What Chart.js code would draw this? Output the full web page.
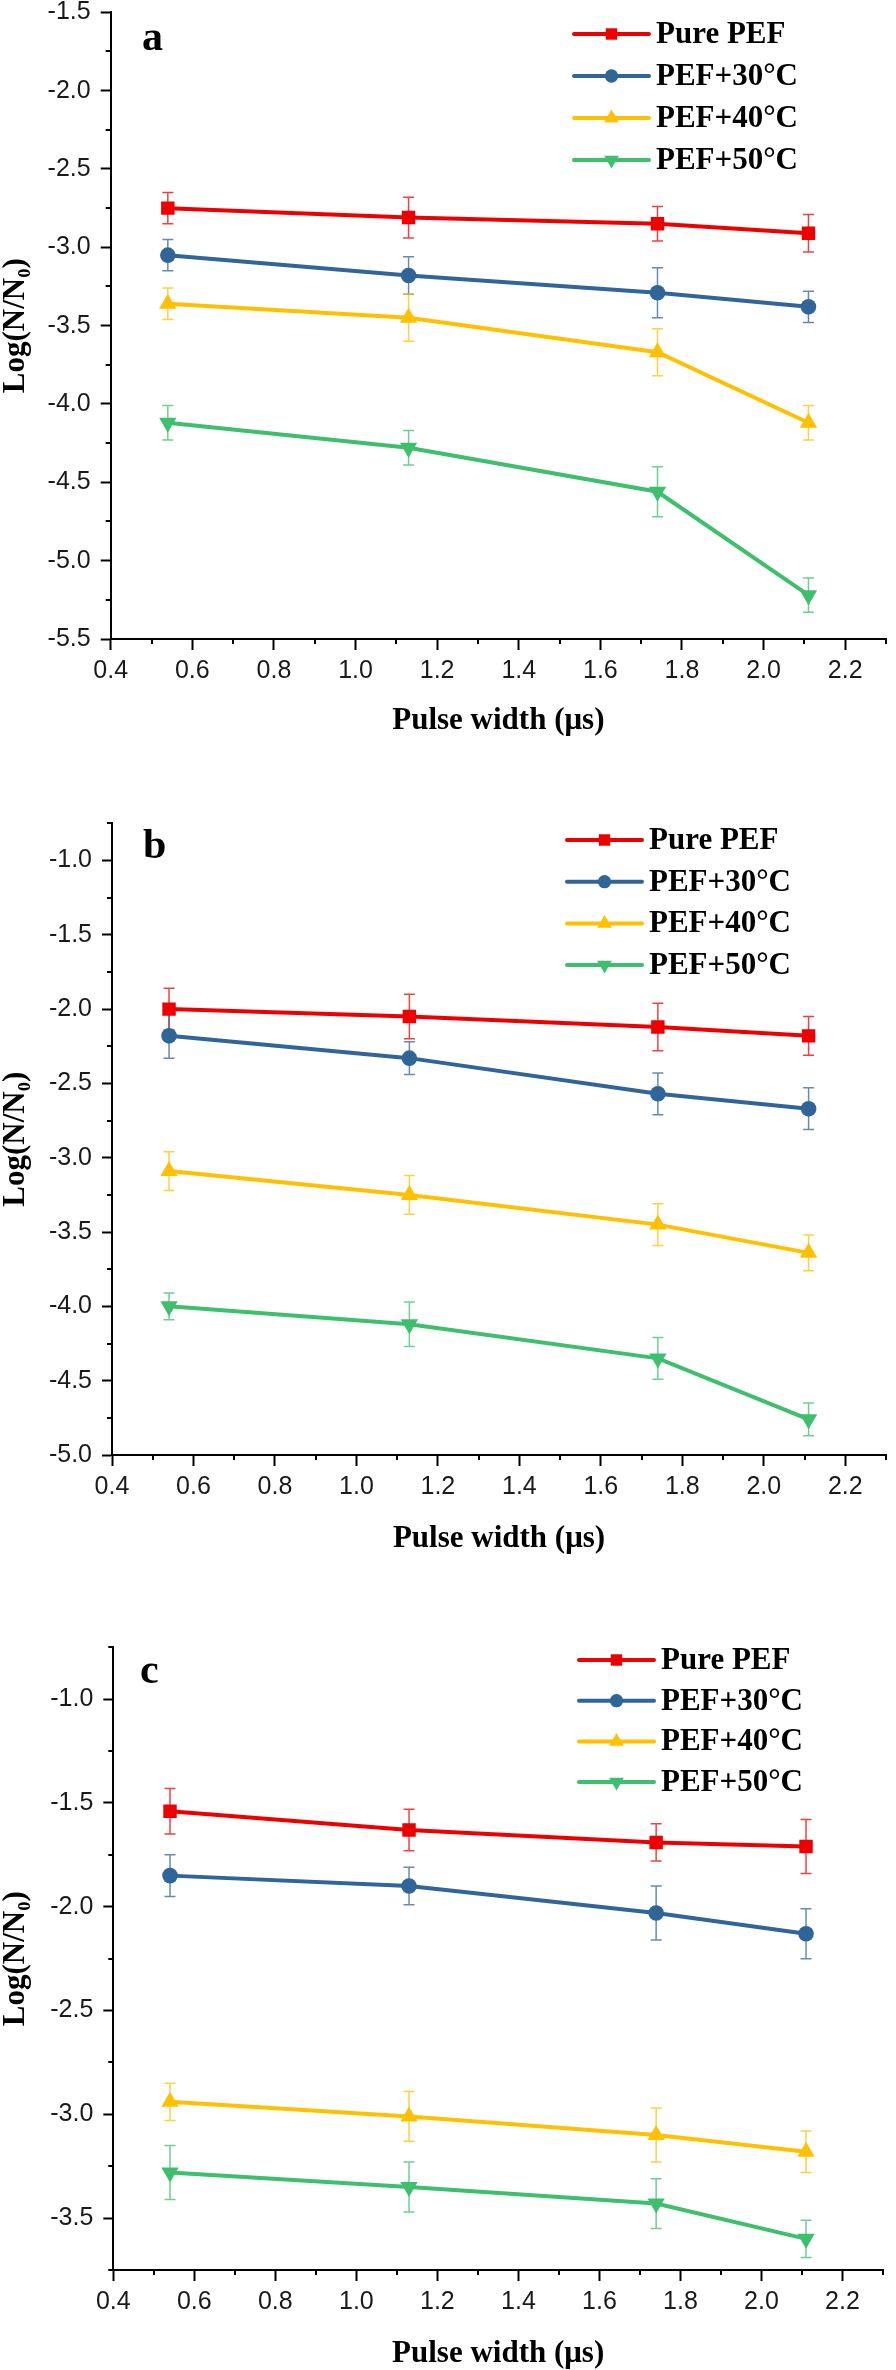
<!DOCTYPE html>
<html>
<head>
<meta charset="utf-8">
<script src="https://cdn.jsdelivr.net/npm/chart.js@4.4.1/dist/chart.umd.min.js"></script>
<style>
  html, body { margin: 0; padding: 0; background: #fff; }
  body { width: 896px; height: 2370px; position: relative; overflow: hidden; }
  canvas { position: absolute; left: 0; }
</style>
</head>
<body>
<canvas id="chartA"></canvas>
<canvas id="chartB"></canvas>
<canvas id="chartC"></canvas>
<script>
// pulse widths (µs) shared by all three panels
const pulseWidths = [0.54, 1.13, 1.74, 2.11];
const seriesNames = ['Pure PEF', 'PEF+30°C', 'PEF+40°C', 'PEF+50°C'];

const xTickValues = [0.4, 0.6, 0.8, 1.0, 1.2, 1.4, 1.6, 1.8, 2.0, 2.2];
const yTicksA = [-5.5, -5.0, -4.5, -4.0, -3.5, -3.0, -2.5, -2.0, -1.5];
const yTicksB = [-5.0, -4.5, -4.0, -3.5, -3.0, -2.5, -2.0, -1.5, -1.0];
const yTicksC = [-3.5, -3.0, -2.5, -2.0, -1.5, -1.0];

// panel a
const pureA = [-2.75, -2.81, -2.85, -2.91];
const t30A  = [-3.05, -3.18, -3.29, -3.38];
const t40A  = [-3.36, -3.45, -3.67, -4.12];
const t50A  = [-4.12, -4.28, -4.56, -5.22];
const pureErrA = [0.10, 0.13, 0.11, 0.12];
const t30ErrA  = [0.10, 0.12, 0.16, 0.10];
const t40ErrA  = [0.10, 0.15, 0.15, 0.11];
const t50ErrA  = [0.11, 0.11, 0.16, 0.11];

// panel b
const pureB = [-2.00, -2.05, -2.12, -2.18];
const t30B  = [-2.18, -2.33, -2.57, -2.67];
const t40B  = [-3.09, -3.25, -3.45, -3.64];
const t50B  = [-4.00, -4.12, -4.35, -4.76];
const pureErrB = [0.14, 0.15, 0.16, 0.13];
const t30ErrB  = [0.15, 0.11, 0.14, 0.14];
const t40ErrB  = [0.13, 0.13, 0.14, 0.12];
const t50ErrB  = [0.09, 0.15, 0.14, 0.11];

// panel c
const pureC = [-1.54, -1.63, -1.69, -1.71];
const t30C  = [-1.85, -1.90, -2.03, -2.13];
const t40C  = [-2.94, -3.01, -3.10, -3.18];
const t50C  = [-3.28, -3.35, -3.43, -3.60];
const pureErrC = [0.11, 0.10, 0.09, 0.13];
const t30ErrC  = [0.10, 0.09, 0.13, 0.12];
const t40ErrC  = [0.09, 0.12, 0.13, 0.10];
const t50ErrC  = [0.13, 0.12, 0.12, 0.09];

const seriesColors = ['#ee0000', '#30659a', '#ffc000', '#3dbf6e'];
const markerStyles = ['rect', 'circle', 'triangle', 'triangle'];
const markerRotations = [0, 0, 0, 180];
const markerRadii = [9.5, 7.8, 10, 10];

const SERIF = '"Liberation Serif", "Times New Roman", "DejaVu Serif", serif';
const SANS = '"Liberation Sans", Arial, sans-serif';

const panels = [
  { canvasId: 'chartA', top: 0, height: 736,
    area: { left: 110.7, top: 12.3, right: 887, bottom: 639 },
    yMin: -5.5, yMax: -1.5, yTicks: yTicksA,
    values: [pureA, t30A, t40A, t50A], errors: [pureErrA, t30ErrA, t40ErrA, t50ErrA],
    letter: 'a', letterX: 142, letterY: 50, legendX: 574, legendY: 34, legendStep: 42 },
  { canvasId: 'chartB', top: 790, height: 764,
    area: { left: 112, top: 33.3, right: 889, bottom: 665 },
    yMin: -5.0, yMax: -0.75, yTicks: yTicksB,
    values: [pureB, t30B, t40B, t50B], errors: [pureErrB, t30ErrB, t40ErrB, t50ErrB],
    letter: 'b', letterX: 143, letterY: 68, legendX: 567, legendY: 50, legendStep: 41.7 },
  { canvasId: 'chartC', top: 1600, height: 769,
    area: { left: 113.3, top: 47.3, right: 883, bottom: 670 },
    yMin: -3.75, yMax: -0.75, yTicks: yTicksC,
    values: [pureC, t30C, t40C, t50C], errors: [pureErrC, t30ErrC, t40ErrC, t50ErrC],
    letter: 'c', letterX: 140, letterY: 83, legendX: 579, legendY: 60, legendStep: 40.7 }
];

// error bars under the lines
const errorBars = {
  id: 'errorBars',
  beforeDatasetsDraw(chart) {
    const { ctx, scales: { x, y } } = chart;
    chart.data.datasets.forEach(ds => {
      if (!ds.errors) return;
      ctx.save();
      ctx.strokeStyle = ds.borderColor;
      ctx.globalAlpha = 0.75;
      ctx.lineWidth = 1.5;
      ds.data.forEach((p, j) => {
        const px = x.getPixelForValue(p.x);
        const hi = y.getPixelForValue(p.y + ds.errors[j]);
        const lo = y.getPixelForValue(p.y - ds.errors[j]);
        ctx.beginPath();
        ctx.moveTo(px, hi); ctx.lineTo(px, lo);
        ctx.moveTo(px - 5.5, hi); ctx.lineTo(px + 5.5, hi);
        ctx.moveTo(px - 5.5, lo); ctx.lineTo(px + 5.5, lo);
        ctx.stroke();
      });
      ctx.restore();
    });
  }
};

function midpoints(scale) {
  const vals = scale.ticks.map(t => t.value);
  const step = vals[1] - vals[0];
  const out = [];
  vals.forEach(v => {
    [v - step / 2, v + step / 2].forEach(m => {
      if (m >= scale.min - 1e-9 && m <= scale.max + 1e-9 && !out.some(o => Math.abs(o - m) < 1e-9)) out.push(m);
    });
  });
  return out;
}

// short minor ticks between the labelled ones
const minorTicks = {
  id: 'minorTicks',
  afterDraw(chart) {
    const { ctx, scales: { x, y } } = chart;
    ctx.save();
    ctx.strokeStyle = '#000';
    ctx.lineWidth = 2;
    ctx.beginPath();
    midpoints(x).forEach(v => {
      const px = Math.round(x.getPixelForValue(v));
      ctx.moveTo(px, x.top); ctx.lineTo(px, x.top + 5);
    });
    midpoints(y).forEach(v => {
      const py = Math.round(y.getPixelForValue(v));
      ctx.moveTo(y.right, py); ctx.lineTo(y.right - 5, py);
    });
    ctx.stroke();
    ctx.restore();
  }
};

// panel letter + origin-style legend (line with marker)
const panelDecor = {
  id: 'panelDecor',
  afterDraw(chart, args, opts) {
    const ctx = chart.ctx;
    ctx.save();
    ctx.fillStyle = '#000';
    ctx.textAlign = 'left';
    ctx.textBaseline = 'alphabetic';
    ctx.font = 'bold 42px ' + SERIF;
    ctx.fillText(opts.letter, opts.letterX, opts.letterY);

    ctx.font = 'bold 31px ' + SERIF;
    ctx.textBaseline = 'middle';
    chart.data.datasets.forEach((ds, i) => {
      const yy = opts.legendY + i * opts.legendStep;
      ctx.strokeStyle = ds.borderColor;
      ctx.lineWidth = 4;
      ctx.lineCap = 'round';
      ctx.beginPath();
      ctx.moveTo(opts.legendX, yy);
      ctx.lineTo(opts.legendX + 75, yy);
      ctx.stroke();
      ctx.fillStyle = ds.backgroundColor;
      Chart.helpers.drawPoint(ctx, {
        pointStyle: ds.pointStyle, rotation: ds.pointRotation,
        radius: ds.pointRadius * 0.85, borderWidth: 0
      }, opts.legendX + 37.5, yy);
      ctx.fillStyle = '#000';
      ctx.fillText(ds.label, opts.legendX + 82, yy + 1);
    });
    ctx.restore();
  }
};

panels.forEach(panel => {
  const canvas = document.getElementById(panel.canvasId);
  canvas.width = 896;
  canvas.height = panel.height;
  canvas.style.top = panel.top + 'px';

  const datasets = seriesNames.map((name, i) => ({
    label: name,
    data: pulseWidths.map((x, j) => ({ x, y: panel.values[i][j] })),
    errors: panel.errors[i],
    borderColor: seriesColors[i],
    backgroundColor: seriesColors[i],
    borderWidth: 4,
    tension: 0,
    pointStyle: markerStyles[i],
    pointRotation: markerRotations[i],
    pointRadius: markerRadii[i],
    pointHoverRadius: markerRadii[i],
    pointBorderWidth: 0
  }));

  new Chart(canvas, {
    type: 'line',
    data: { datasets },
    plugins: [errorBars, minorTicks, panelDecor],
    options: {
      responsive: false,
      animation: false,
      events: [],
      layout: { padding: { left: 0, top: panel.area.top, right: 896 - panel.area.right, bottom: 0 } },
      plugins: {
        legend: { display: false },
        tooltip: { enabled: false },
        panelDecor: {
          letter: panel.letter, letterX: panel.letterX, letterY: panel.letterY,
          legendX: panel.legendX, legendY: panel.legendY, legendStep: panel.legendStep
        }
      },
      scales: {
        x: {
          type: 'linear',
          min: 0.4, max: 2.3,
          afterBuildTicks: s => { s.ticks = xTickValues.map(v => ({ value: v })); },
          afterFit: s => {
            s.height = panel.height - panel.area.bottom;
            s.paddingLeft = 0; s.paddingRight = 0;
          },
          grid: { display: true, drawOnChartArea: false, drawTicks: true, tickLength: 11, color: '#000', tickWidth: 2 },
          border: { display: true, color: '#000', width: 2 },
          ticks: {
            autoSkip: false, maxRotation: 0, padding: 6, color: '#1a1a1a',
            font: { family: SANS, size: 25, lineHeight: 1.2 },
            callback: v => Number(v).toFixed(1)
          },
          title: {
            display: true, text: 'Pulse width (μs)', color: '#000', padding: 0,
            font: { family: SERIF, size: 31, weight: 'bold', lineHeight: 1 }
          }
        },
        y: {
          type: 'linear',
          min: panel.yMin, max: panel.yMax,
          afterBuildTicks: s => { s.ticks = panel.yTicks.map(v => ({ value: v })); },
          afterFit: s => {
            s.width = panel.area.left;
            s.paddingTop = 0; s.paddingBottom = 0;
          },
          grid: { display: true, drawOnChartArea: false, drawTicks: true, tickLength: 10, color: '#000', tickWidth: 2 },
          border: { display: true, color: '#000', width: 2 },
          ticks: {
            autoSkip: false, padding: 10, color: '#1a1a1a',
            font: { family: SANS, size: 25, lineHeight: 1.2 },
            callback: v => Number(v).toFixed(1)
          },
          title: {
            display: true, text: 'Log(N/N₀)', color: '#000', padding: 0,
            font: { family: SERIF, size: 31, weight: 'bold', lineHeight: 1 }
          }
        }
      }
    }
  });
});
</script>
</body>
</html>
